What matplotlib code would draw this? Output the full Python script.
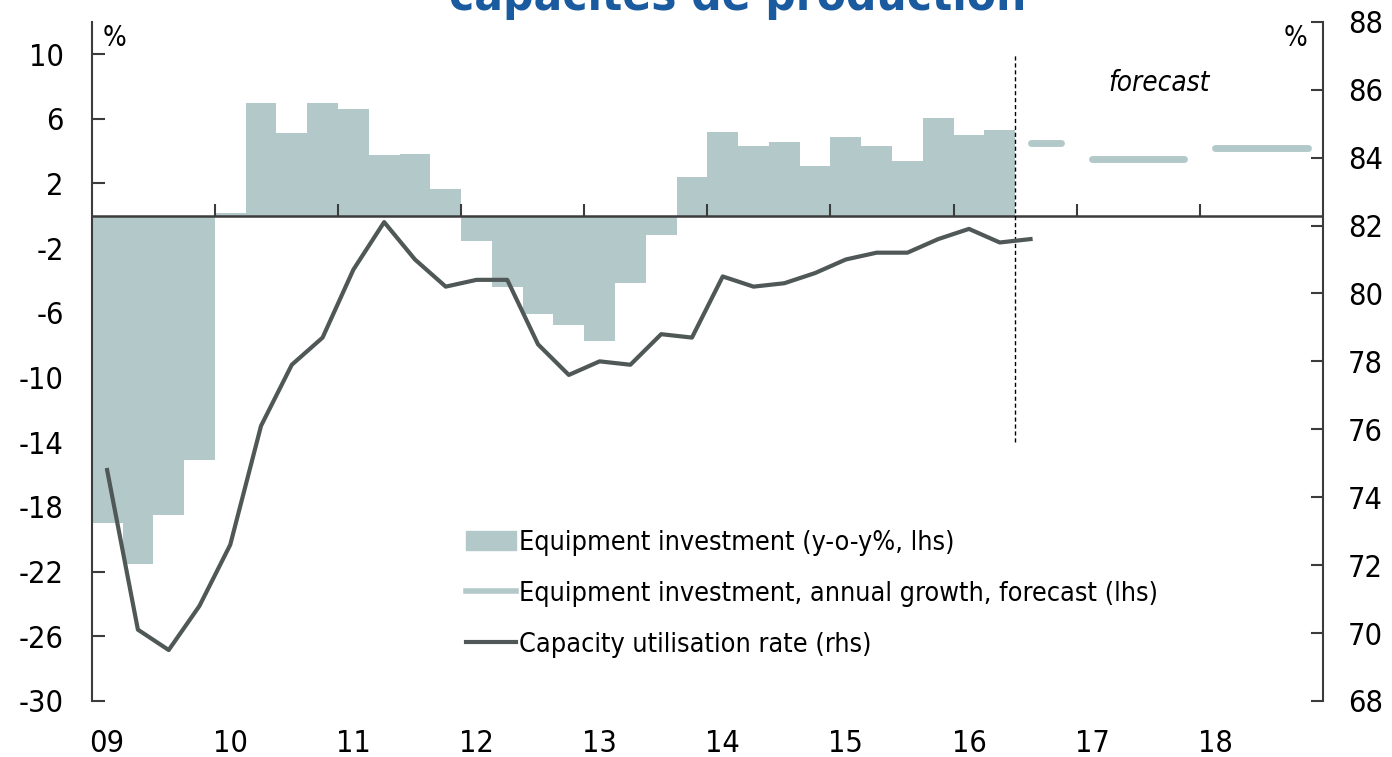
import matplotlib
matplotlib.use("Agg")
import matplotlib.pyplot as plt
from matplotlib.patches import Patch
from matplotlib.lines import Line2D
import numpy as np

plt.rcParams["font.family"] = ["DejaVu Sans"]
plt.rcParams["font.stretch"] = "condensed"
plt.rcParams["axes.unicode_minus"] = False

# quarterly data, 2009Q1 .. 2016Q2
investment = [-19.0, -21.5, -18.5, -15.1,
              0.2, 7.0, 5.1, 7.0,
              6.6, 3.75, 3.8, 1.65,
              -1.55, -4.4, -6.1, -6.75,
              -7.75, -4.15, -1.2, 2.4,
              5.2, 4.3, 4.55, 3.1,
              4.9, 4.3, 3.4, 6.05,
              5.0, 5.3]

# capacity utilisation, 2009Q1 .. 2016Q3
capacity = [74.8, 70.1, 69.5, 70.8,
            72.6, 76.1, 77.9, 78.7,
            80.7, 82.1, 81.0, 80.2,
            80.4, 80.4, 78.5, 77.6,
            78.0, 77.9, 78.8, 78.7,
            80.5, 80.2, 80.3, 80.6,
            81.0, 81.2, 81.2, 81.6,
            81.9, 81.5, 81.6]

# annual growth forecasts (lhs)
fc_years = [2016, 2017, 2018]
fc_quarters = [[3, 4], [1, 2, 3, 4], [1, 2, 3, 4]]
fc_values = [4.5, 3.5, 4.2]

year_ticks = list(range(2010, 2019))
year_labels = ["09", "10", "11", "12", "13", "14", "15", "16", "17", "18"]

bar_col = "#b3c9c9"
line_col = "#4f5857"
axis_col = "#3c3c3c"

fig = plt.figure(figsize=(13.92, 7.57), dpi=100)
ax = fig.add_axes([0.0659, 0.074, 0.8845, 0.8973])
ax2 = ax.twinx()

q_start = 2009 + np.arange(len(investment)) * 0.25
ax.bar(q_start, investment, width=0.25, align="edge", color=bar_col, linewidth=0, zorder=2)

for yr, qs, v in zip(fc_years, fc_quarters, fc_values):
    xs = [yr + (q - 1) * 0.25 + 0.125 for q in qs]
    ax.plot(xs, [v] * len(xs), color=bar_col, lw=5, solid_capstyle="round", zorder=2)

ax.axhline(0, color=axis_col, lw=1.8, zorder=3)
ax.vlines(year_ticks, 0, 0.75, color=axis_col, lw=1.5, zorder=3)
ax.vlines(2016.5, -14, 10, color="black", lw=1, linestyles=(0, (3, 2)), zorder=3)

q_mid = 2009.125 + np.arange(len(capacity)) * 0.25
ax2.plot(q_mid, capacity, color=line_col, lw=3, zorder=4)

ax.set_xlim(2009, 2019)
ax.set_ylim(-30, 12)
ax2.set_ylim(68, 88)

ax.set_yticks(range(-30, 11, 4))
ax2.set_yticks(range(68, 89, 2))
ax.set_xticks([2009.125 + i for i in range(len(year_labels))])
ax.set_xticklabels(year_labels)

ax.tick_params(axis="x", length=0, pad=20, labelsize=22)
ax.tick_params(axis="y", direction="in", length=9, width=1.5, color=axis_col, pad=20, labelsize=22)
ax2.tick_params(axis="y", direction="in", length=9, width=1.5, color=axis_col, pad=18, labelsize=22)

for a in (ax, ax2):
    a.spines["top"].set_visible(False)
    a.spines["bottom"].set_visible(False)
ax.spines["right"].set_visible(False)
ax2.spines["left"].set_visible(False)
ax.spines["left"].set_color(axis_col)
ax2.spines["right"].set_color(axis_col)
ax.spines["left"].set_linewidth(1.5)
ax2.spines["right"].set_linewidth(1.5)

ax.text(0.009, 0.997, "%", transform=ax.transAxes, fontsize=20, va="top", ha="left")
ax2.text(0.987, 0.997, "%", transform=ax2.transAxes, fontsize=20, va="top", ha="right")
ax.text(2017.67, 8.2, "forecast", fontsize=20, style="italic", ha="center", va="center")

handles = [Patch(color=bar_col),
           Line2D([], [], color=bar_col, lw=4),
           Line2D([], [], color=line_col, lw=3)]
labels = ["Equipment investment (y-o-y%, lhs)",
          "Equipment investment, annual growth, forecast (lhs)",
          "Capacity utilisation rate (rhs)"]
ax2.legend(handles, labels, loc="upper left", bbox_to_anchor=(0.304, 0.252),
           frameon=False, fontsize=19.4, handlelength=1.85, handleheight=0.7,
           handletextpad=0.1, labelspacing=0.93, borderpad=0, borderaxespad=0)

fig.text(0.53, 1 - 10 / 757, "capacités de production", ha="center", va="baseline",
         fontsize=34, weight="bold", color="#1a5a9e")

fig.savefig("out.png", dpi=100)
